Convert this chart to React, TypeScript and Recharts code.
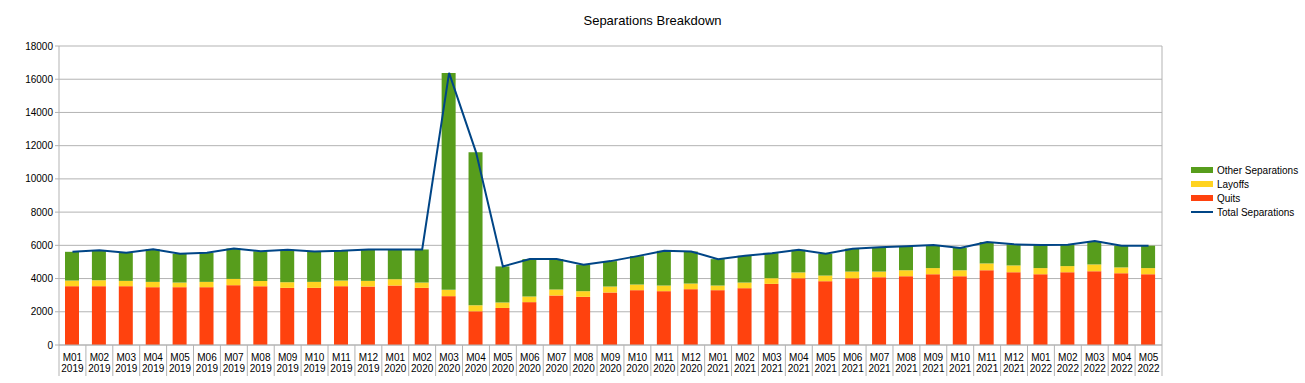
import React from 'react';
import {
  ComposedChart,
  Bar,
  Line,
  XAxis,
  YAxis,
  CartesianGrid,
} from 'recharts';

const categories = [
  'M01 2019', 'M02 2019', 'M03 2019', 'M04 2019', 'M05 2019', 'M06 2019', 'M07 2019', 'M08 2019', 'M09 2019', 'M10 2019', 'M11 2019', 'M12 2019',
  'M01 2020', 'M02 2020', 'M03 2020', 'M04 2020', 'M05 2020', 'M06 2020', 'M07 2020', 'M08 2020', 'M09 2020', 'M10 2020', 'M11 2020', 'M12 2020',
  'M01 2021', 'M02 2021', 'M03 2021', 'M04 2021', 'M05 2021', 'M06 2021', 'M07 2021', 'M08 2021', 'M09 2021', 'M10 2021', 'M11 2021', 'M12 2021',
  'M01 2022', 'M02 2022', 'M03 2022', 'M04 2022', 'M05 2022',
];

const quits = [
  3540, 3540, 3540, 3480, 3480, 3480, 3600, 3540, 3440, 3440, 3540, 3520,
  3580, 3440, 2940, 2030, 2230, 2580, 2980, 2900, 3160, 3300, 3240, 3360,
  3300, 3420, 3680, 4020, 3840, 4020, 4080, 4140, 4260, 4140, 4500, 4380,
  4260, 4380, 4440, 4320, 4260,
];

const layoffs = [
  340, 360, 320, 320, 280, 320, 380, 320, 340, 360, 340, 340,
  380, 320, 380, 360, 330, 340, 360, 340, 360, 340, 340, 340,
  280, 340, 340, 350, 340, 400, 340, 360, 370, 360, 410, 410,
  370, 370, 410, 350, 370,
];

const otherSeparations = [
  1730, 1810, 1690, 1970, 1730, 1750, 1830, 1790, 1950, 1830, 1790, 1890,
  1790, 1990, 13060, 9220, 2170, 2250, 1830, 1590, 1530, 1710, 2090, 1930,
  1590, 1610, 1510, 1360, 1310, 1380, 1460, 1440, 1390, 1340, 1290, 1270,
  1390, 1290, 1410, 1310, 1350,
];

const totalSeparations = [
  5610, 5710, 5550, 5770, 5490, 5550, 5810, 5650, 5730, 5630, 5670, 5750,
  5750, 5750, 16380, 11610, 4730, 5170, 5170, 4830, 5050, 5350, 5670, 5630,
  5170, 5370, 5530, 5730, 5490, 5800, 5880, 5940, 6020, 5840, 6200, 6060,
  6020, 6040, 6260, 5980, 5980,
];

const yTicks = [0, 2000, 4000, 6000, 8000, 10000, 12000, 14000, 16000, 18000];

const colors = {
  other: '#579d1c',
  layoffs: '#ffd320',
  quits: '#ff420e',
  total: '#004586',
  grid: '#b3b3b3',
};

const W = 1305;
const H = 383;
const PLOT_LEFT = 59;
const PLOT_RIGHT = 1162;
const PLOT_TOP = 46;
const PLOT_BOTTOM = 345;
const BAND = (PLOT_RIGHT - PLOT_LEFT) / categories.length;

const data = categories.map((name, i) => ({
  name,
  quits: quits[i],
  layoffs: layoffs[i],
  other: otherSeparations[i],
  total: totalSeparations[i],
}));

const font = '"Liberation Sans", Arial, sans-serif';

const XTick = (props: any) => {
  const { x, payload, index } = props;
  const [m, yr] = String(payload.value).split(' ');
  const left = x - BAND / 2;
  return (
    <g>
      <line x1={left} x2={left} y1={PLOT_BOTTOM} y2={376} stroke={colors.grid} />
      {index === categories.length - 1 && (
        <line x1={x + BAND / 2} x2={x + BAND / 2} y1={PLOT_BOTTOM} y2={376} stroke={colors.grid} />
      )}
      <text x={x} y={361} textAnchor="middle" fontSize={10} fill="#000" fontFamily={font}>{m}</text>
      <text x={x} y={372} textAnchor="middle" fontSize={10} fill="#000" fontFamily={font}>{yr}</text>
    </g>
  );
};

const legendItems = [
  { label: 'Other Separations', color: colors.other, line: false },
  { label: 'Layoffs', color: colors.layoffs, line: false },
  { label: 'Quits', color: colors.quits, line: false },
  { label: 'Total Separations', color: colors.total, line: true },
];

const App = () => {
  return (
    <div style={{ position: 'absolute', left: 0, top: 0, width: W, height: H, background: '#fff', fontFamily: font }}>
      <div style={{ position: 'absolute', top: 13, left: 0, width: W, textAlign: 'center', fontSize: 13, lineHeight: '16px', color: '#000' }}>
        Separations Breakdown
      </div>

      <ComposedChart
        width={W}
        height={H}
        data={data}
        margin={{ top: PLOT_TOP, left: PLOT_LEFT - 50, right: W - PLOT_RIGHT, bottom: H - PLOT_BOTTOM - 30 }}
        barCategoryGap="24%"
      >
        <CartesianGrid vertical={true} horizontal={true} stroke={colors.grid} verticalPoints={[PLOT_RIGHT]} />
        <XAxis
          dataKey="name"
          interval={0}
          height={30}
          axisLine={{ stroke: colors.grid }}
          tickLine={false}
          tick={<XTick />}
        />
        <YAxis
          width={50}
          domain={[0, 18000]}
          ticks={yTicks}
          interval={0}
          axisLine={{ stroke: colors.grid }}
          tickLine={{ stroke: colors.grid }}
          tickSize={4}
          tick={{ fontSize: 10, fill: '#000', fontFamily: font }}
        />
        <Bar dataKey="quits" stackId="s" fill={colors.quits} barSize={14} isAnimationActive={false} />
        <Bar dataKey="layoffs" stackId="s" fill={colors.layoffs} barSize={14} isAnimationActive={false} />
        <Bar dataKey="other" stackId="s" fill={colors.other} barSize={14} isAnimationActive={false} />
        <Line
          dataKey="total"
          type="linear"
          stroke={colors.total}
          strokeWidth={2}
          dot={false}
          activeDot={false}
          isAnimationActive={false}
        />
      </ComposedChart>

      <div style={{ position: 'absolute', left: 1191, top: 163, fontSize: 10, color: '#000' }}>
        {legendItems.map((item) => (
          <div key={item.label} style={{ display: 'flex', alignItems: 'center', height: 14 }}>
            <span
              style={{
                display: 'inline-block',
                width: 22,
                height: item.line ? 2 : 6,
                background: item.color,
                marginRight: 4,
              }}
            />
            {item.label}
          </div>
        ))}
      </div>
    </div>
  );
};

export default App;
